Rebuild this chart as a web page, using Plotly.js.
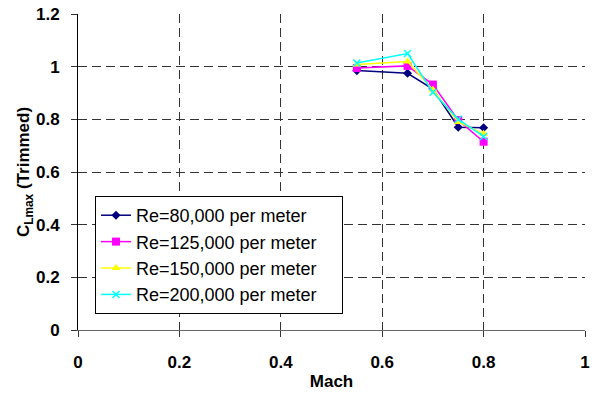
<!DOCTYPE html>
<html>
<head>
<meta charset="utf-8">
<script src="https://cdn.plot.ly/plotly-3.0.1.min.js"></script>
<style>html,body{margin:0;padding:0;background:#fff;}#chart{width:595px;height:396px;}</style>
</head>
<body>
<div id="chart"></div>
<script>
const mach = [0.55, 0.65, 0.70, 0.75, 0.80];
const seriesNames = ["Re=80,000 per meter", "Re=125,000 per meter", "Re=150,000 per meter", "Re=200,000 per meter"];
const re80k  = [0.985, 0.975, 0.915, 0.770, 0.768];
const re125k = [0.995, 1.003, 0.932, 0.797, 0.715];
const re150k = [1.008, 1.020, 0.912, 0.790, 0.745];
const re200k = [1.014, 1.050, 0.903, 0.800, 0.735];
const colors = ["#000080", "#FF00FF", "#FFFF00", "#00FFFF"];
const symbols = ["diamond", "square", "triangle-up", "x-thin-open"];
const sizes = [7, 8, 8, 7];
const allY = [re80k, re125k, re150k, re200k];

const pad = "\u00a0\u00a0\u00a0\u00a0";
const traces = allY.map((y, i) => ({
  x: mach, y: y, name: seriesNames[i] + pad, type: "scatter", mode: "lines+markers",
  line: {color: colors[i], width: 1.5},
  marker: {color: colors[i], symbol: symbols[i], size: sizes[i], line: {color: colors[i], width: i === 3 ? 1.5 : 0}}
}));
// invisible helper trace to carry the inner half of the crossing tick marks
traces.push({x: [0], y: [0], xaxis: "x2", yaxis: "y2", mode: "markers", marker: {opacity: 0}, showlegend: false, hoverinfo: "skip"});

const fam = "Liberation Sans, Arial, sans-serif";
const layout = {
  width: 595, height: 396,
  margin: {l: 78, r: 10, t: 14, b: 66},
  paper_bgcolor: "#fff", plot_bgcolor: "#fff",
  font: {family: fam, color: "#000"},
  showlegend: true,
  legend: {
    x: 0.0335, y: 0.424, xanchor: "left", yanchor: "top",
    bgcolor: "#fff", bordercolor: "#000", borderwidth: 1,
    font: {family: fam, size: 18, color: "#000"},
    tracegroupgap: 0, itemwidth: 30
  },
  xaxis: {
    range: [0, 1], dtick: 0.2, tick0: 0,
    showgrid: true, gridcolor: "#333", griddash: "9px,5px", gridwidth: 1,
    showline: true, linecolor: "#666", linewidth: 1,
    ticks: "outside", ticklen: 6, tickcolor: "#333",
    zeroline: false, ticklabelstandoff: 11,
    tickfont: {family: fam, size: 17, color: "#000", weight: "bold"},
    title: {text: "<b>Mach</b>", font: {family: fam, size: 17, color: "#000"}, standoff: 3}
  },
  yaxis: {
    range: [0, 1.2], dtick: 0.2, tick0: 0,
    showgrid: true, gridcolor: "#333", griddash: "9px,5px", gridwidth: 1,
    showline: true, linecolor: "#000", linewidth: 1,
    ticks: "outside", ticklen: 6, tickcolor: "#333",
    zeroline: false, ticklabelstandoff: 8,
    tickfont: {family: fam, size: 17, color: "#000", weight: "bold"},
    title: {text: "<b>C<sub>Lmax</sub> (Trimmed)</b>", font: {family: fam, size: 17, color: "#000"}, standoff: 1}
  },
  xaxis2: {overlaying: "x", anchor: "y", range: [0, 1], dtick: 0.2, tick0: 0, ticks: "inside", ticklen: 6, tickcolor: "#333",
    showticklabels: false, showgrid: false, zeroline: false, showline: false},
  yaxis2: {overlaying: "y", anchor: "x", range: [0, 1.2], dtick: 0.2, tick0: 0, ticks: "inside", ticklen: 6, tickcolor: "#333",
    showticklabels: false, showgrid: false, zeroline: false, showline: false}
};
Plotly.newPlot("chart", traces, layout, {displayModeBar: false, staticPlot: true});
</script>
</body>
</html>
